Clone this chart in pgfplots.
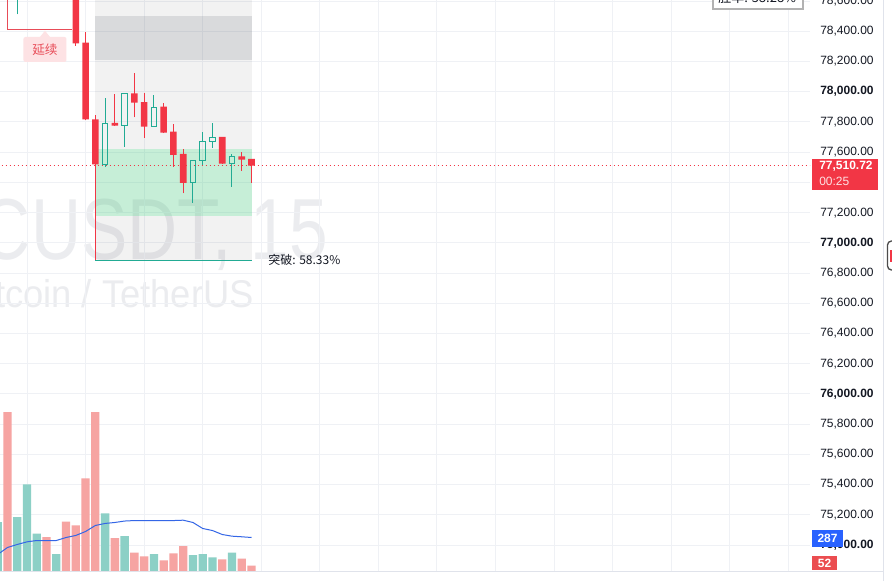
\documentclass[border=0pt]{standalone}
\usepackage{pgfplots}
\pgfplotsset{compat=1.18}
\usepackage{fontspec}
\setmainfont{Liberation Sans}
\newfontfamily\cjk{Noto Sans CJK SC}
\usepackage{graphicx}
\definecolor{tvred}{RGB}{242,54,69}
\definecolor{tvgreen}{RGB}{34,171,148}
\definecolor{volred}{RGB}{246,164,162}
\definecolor{volgreen}{RGB}{140,208,198}
\definecolor{mablue}{RGB}{52,102,230}
\definecolor{lblue}{RGB}{41,98,255}
\definecolor{gridc}{RGB}{239,241,245}
\definecolor{wm}{RGB}{235,236,239}
\definecolor{txt}{RGB}{19,23,34}
\definecolor{bordc}{RGB}{224,227,235}
\definecolor{mint}{RGB}{70,230,138}
\definecolor{darkband}{RGB}{120,125,135}
\definecolor{pinkbg}{RGB}{253,226,228}
\definecolor{labred}{RGB}{232,76,88}
\definecolor{volredlab}{RGB}{235,77,80}
\pgfplotsset{
  tvaxis/.style={at={(0pt,6.75pt)}, anchor=south west, scale only axis,
    width=607.5pt, height=429pt, xmin=-0.768, xmax=82.22},
  pricey/.style={ymin=74821.4, ymax=78606.9},
}
\begin{document}
\begin{tikzpicture}
\useasboundingbox (0pt,0pt) rectangle (669pt,435.75pt);
\clip (0pt,0pt) rectangle (669pt,435.75pt);
\begin{scope}[x=0.75pt,y=0.75pt]
\fill[white] (0,0) rectangle (892,581);
\node[anchor=base east, inner sep=0pt, text=wm, font=\fontsize{65}{65}\selectfont] at (328,321) {\scalebox{0.8}[1]{BTCUSDT, 15}};
\node[anchor=base east, inner sep=0pt, text=wm, font=\fontsize{29}{29}\selectfont] at (254,273) {\scalebox{0.94}[1]{Bitcoin / TetherUS}};
\end{scope}

% main price axis
\begin{axis}[tvaxis, pricey,
  axis line style={draw=none}, major tick length=0pt,
  xtick={2,8,...,80}, xticklabels={},
  ytick={75000,75200,...,78600},
  yticklabels={{\textbf{75,000.00}},{75,200.00},{75,400.00},{75,600.00},{75,800.00},{\textbf{76,000.00}},{76,200.00},{76,400.00},{76,600.00},{76,800.00},{\textbf{77,000.00}},{77,200.00},{},{77,600.00},{77,800.00},{\textbf{78,000.00}},{78,200.00},{78,400.00},{78,600.00}},
  yticklabel pos=right,
  yticklabel style={anchor=west, inner sep=0pt, xshift=7.5pt, font=\fontsize{9}{10}\selectfont, text=txt},
  grid=major, major grid style={gridc, line width=0.75pt},
  unbounded coords=jump,
]
\addplot[draw=none, fill=black, fill opacity=0.05] coordinates {(9,76880) (25,76880) (25,78800) (9,78800)} -- cycle;
\addplot[draw=none, fill=darkband, fill opacity=0.2] coordinates {(9,78209.8) (25,78209.8) (25,78501) (9,78501)} -- cycle;
\addplot[draw=none, fill=mint, fill opacity=0.25] coordinates {(9,77179.4) (25,77179.4) (25,77620.8) (9,77620.8)} -- cycle;
\addplot[tvred, line width=0.75pt] coordinates {(9,77515) (9,76880)};
\addplot[tvgreen, line width=0.75pt] coordinates {(9,76880) (25,76880)};
\addplot[labred, line width=0.75pt] coordinates {(-0.05,78800) (-0.05,78413) (6.61,78413)};
\addplot[tvred, line width=0.75pt, dash pattern=on 0.75pt off 2.25pt] coordinates {(-1,77510.72) (83,77510.72)};
\addplot[tvred, line width=0.75pt] coordinates {
(7,78304.4) (7,78750) (7,nan)
(8,77809.4) (8,78393.1) (8,nan)
(9,77501.7) (9,77845.8) (9,nan)
(11,77772) (11,77984.8) (11,nan)
(13,77830.6) (13,78125.7) (13,nan)
(14,77695.6) (14,77989.4) (14,nan)
(16,77726) (16,77927.2) (16,nan)
(17,77503.7) (17,77786.2) (17,nan)
(18,77327.6) (18,77618.8) (18,nan)
(22,77521) (22,77702) (22,nan)
(24,77477.2) (24,77600.9) (24,nan)
(25,77397.8) (25,77556)};
\addplot[tvgreen, line width=0.75pt] coordinates {
(1,78512.2) (1,78650) (1,nan)
(10,77503.7) (10,77519.5) (10,nan) (10,77790.9) (10,77956.3) (10,nan)
(12,77636.0) (12,77775.0) (12,nan)
(15,77896.8) (15,77978.2) (15,nan)
(19,77265.4) (19,77397.8) (19,nan)
(20,77514.9) (20,77546.0) (20,nan) (20,77673.7) (20,77735.3) (20,nan)
(21,77629.4) (21,77669.1) (21,nan) (21,77698.2) (21,77794.8) (21,nan)
(23,77371.3) (23,77526.2) (23,nan) (23,77569.8) (23,77585.7)};
\node[fill=pinkbg, rounded corners=1.5pt, text=labred, font=\cjk\fontsize{9.5}{10}\selectfont, minimum width=32.25pt, minimum height=18.75pt, inner sep=0pt] at (axis cs:3.84,78279.3) {延续};
\fill[pinkbg] (axis cs:3.84,78403.7) -- (axis cs:4.35,78362) -- (axis cs:3.33,78362) -- cycle;
\node[anchor=west, inner sep=0pt, text=txt, font=\cjk\fontsize{9}{10}\selectfont] at (axis cs:26.7,76886.2) {突破: 58.33\%};
\end{axis}

% volume axis
\begin{axis}[tvaxis, ymin=0, ymax=4759, hide axis]
\addplot[ybar, bar width=0.85, bar shift=0pt, fill=volred, draw=none] coordinates {(0,1330) (4,290) (6,420) (7,387) (8,778) (9,1330) (11,281) (13,162) (14,131) (16,96) (17,154) (18,215) (22,104) (24,112) (25,52)};
\addplot[ybar, bar width=0.85, bar shift=0pt, fill=volgreen, draw=none] coordinates {(-1,414) (1,456) (2,728) (3,320) (5,148) (10,487) (12,298) (15,148) (19,140) (20,148) (21,121) (23,162)};
\addplot[mablue, line width=0.75pt, mark=none] coordinates {(-1,146) (0,204) (1,229) (2,251) (3,262) (4,262) (5,262) (6,287) (7,304) (8,337) (9,387) (10,404) (11,412) (12,424) (13,428) (14,428) (15,428) (16,428) (17,428) (18,431) (19,412) (20,362) (21,345) (22,312) (23,298) (24,293) (25,287)};
\end{axis}

% red candle bodies
\begin{axis}[tvaxis, pricey, hide axis, ybar stacked, bar width=0.68]
\addplot[draw=none, fill=none] coordinates {(7,78320.3) (8,77817.3) (9,77519.5) (11,77775.0) (13,77927.2) (14,77768.4) (16,77728.7) (17,77581.1) (18,77395.8) (22,77523.5) (24,77550.0) (25,77510.72)};
\addplot[fill=tvred, draw=none] coordinates {(7,379.7) (8,507.0) (9,297.8) (11,17.9) (13,62.2) (14,163.4) (16,172.0) (17,154.2) (18,191.9) (22,176.7) (24,22.5) (25,43.9)};
\end{axis}

% green hollow candle bodies
\begin{axis}[tvaxis, pricey, hide axis, ybar stacked, bar width=0.58]
\addplot[draw=none, fill=none] coordinates {(1,78650) (10,77519.5) (12,77775.0) (15,77771.0) (19,77397.8) (20,77546.0) (21,77669.1) (23,77526.2)};
\addplot[fill=none, draw=tvgreen, line width=0.75pt] coordinates {(1,50) (10,271.4) (12,214.4) (15,125.8) (19,150.1) (20,127.7) (21,29.1) (23,43.6)};
\end{axis}

\begin{scope}[x=0.75pt,y=0.75pt]
\draw[bordc, line width=0.75pt] (0,9) -- (883,9);
\draw[bordc, line width=0.75pt] (883,0) -- (883,581);
\fill[tvred] (812,391) rectangle (878,421.7);
\node[anchor=west, inner sep=0pt, text=white, font=\bfseries\fontsize{9}{10}\selectfont] at (819,414.3) {77,510.72};
\node[anchor=west, inner sep=0pt, text=white, text opacity=0.85, font=\fontsize{9}{10}\selectfont] at (819,400) {00:25};
\fill[lblue] (811.7,34.3) rectangle (843.3,51);
\node[inner sep=0pt, text=white, font=\bfseries\fontsize{9}{10}\selectfont] at (827.5,42.7) {287};
\fill[volredlab] (811.7,11) rectangle (837.3,25);
\node[inner sep=0pt, text=white, font=\bfseries\fontsize{9}{10}\selectfont] at (824.5,18) {52};
\draw[black!30, line width=1.5pt, fill=white] (713.3,571.7) rectangle (802.7,595);
\node[anchor=base west, inner sep=0pt, text=txt, font=\cjk\fontsize{9.75}{10}\selectfont] at (718,578) {胜率: 58.28\%};
\draw[black!70, line width=1pt, rounded corners=3pt] (887.5,311) rectangle (900,340);
\fill[tvred] (889.5,319) rectangle (896,331);
\end{scope}
\end{tikzpicture}
\end{document}
